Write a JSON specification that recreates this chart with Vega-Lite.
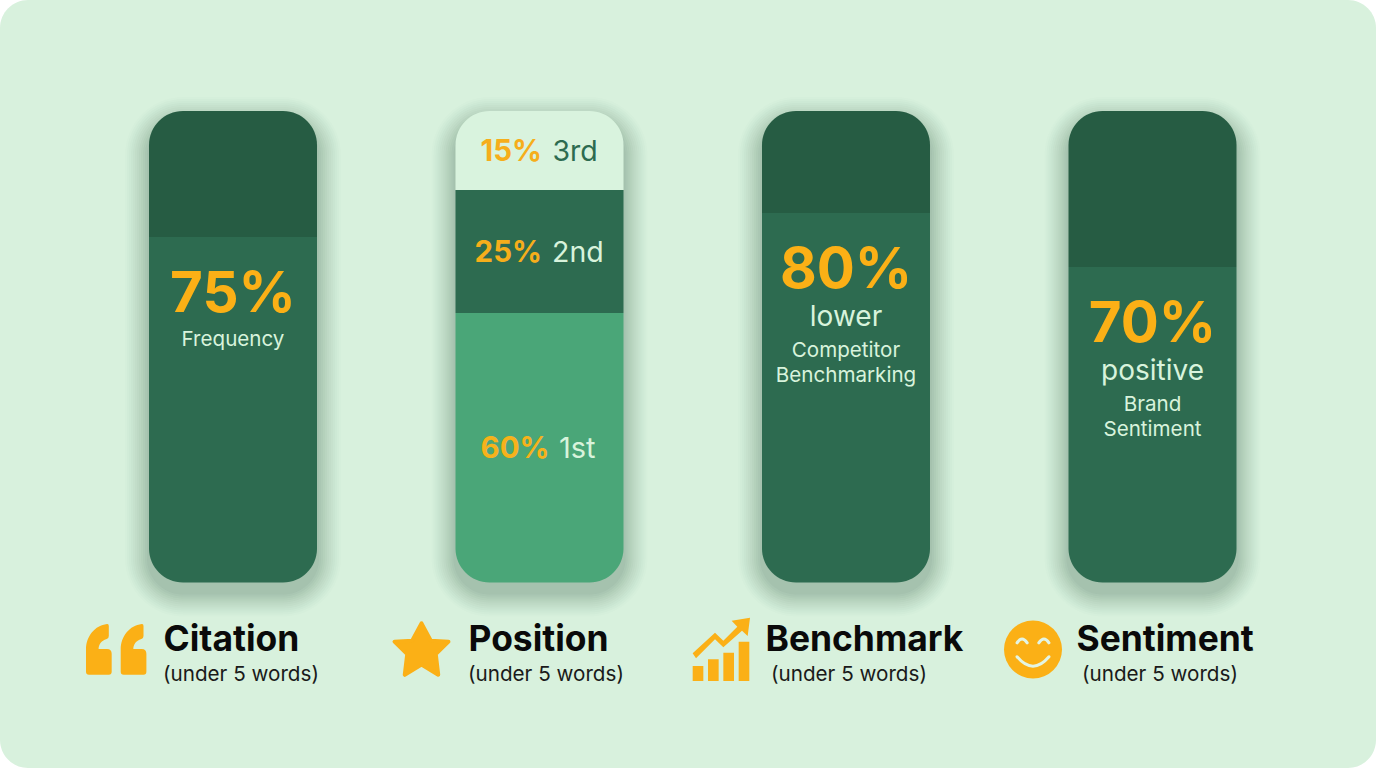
{"$schema":"https://vega.github.io/schema/vega-lite/v6.json","width":1376,"height":768,"autosize":{"type":"fit","contains":"padding"},"padding":0,"background":"#ffffff","config":{"view":{"fill":"#d8f1dd","stroke":null,"cornerRadius":28},"font":"Inter"},
"datasets":{
"segments":[
{"category":"Citation","segment":"Remainder","start":75,"end":100},
{"category":"Citation","segment":"Frequency","start":0,"end":75},
{"category":"Position","segment":"3rd","start":85,"end":100},
{"category":"Position","segment":"2nd","start":60,"end":85},
{"category":"Position","segment":"1st","start":0,"end":60},
{"category":"Benchmark","segment":"Remainder","start":80,"end":100},
{"category":"Benchmark","segment":"Competitor Benchmarking","start":0,"end":80},
{"category":"Sentiment","segment":"Remainder","start":70,"end":100},
{"category":"Sentiment","segment":"Brand Sentiment","start":0,"end":70}],
"metrics":[
{"category":"Citation","value":"75%","caption":"Frequency","detail":"","end":75},
{"category":"Benchmark","value":"80%","caption":"lower","detail":"Competitor\nBenchmarking","end":80},
{"category":"Sentiment","value":"70%","caption":"positive","detail":"Brand\nSentiment","end":70}],
"ranks":[
{"category":"Position","value":"15%","rank":"3rd","mid":92.5},
{"category":"Position","value":"25%","rank":"2nd","mid":72.5},
{"category":"Position","value":"60%","rank":"1st","mid":30}],
"categories":[
{"category":"Citation","note":"(under 5 words)"},
{"category":"Position","note":"(under 5 words)"},
{"category":"Benchmark","note":"(under 5 words)"},
{"category":"Sentiment","note":"(under 5 words)"}]},
"encoding":{"x":{"field":"category","type":"nominal","sort":null,"axis":null,"title":null,"scale":{"domain":["Citation","Position","Benchmark","Sentiment"],"range":[79.75,1305.75],"paddingInner":0,"paddingOuter":0}}},
"layer":[
{"data":{"name":"categories"},"mark":{"type":"bar","size":216,"fill":"#1b4332","opacity":0.012,"cornerRadius":58,"yOffset":-14,"y2Offset":34},"encoding":{"y":{"datum":100,"type":"quantitative","axis":null,"scale":{"domain":[0,60,70,75,80,85,100],"range":[582.5,313,267,237,213,190,111],"nice":false,"zero":false}},"y2":{"datum":0}}},
{"data":{"name":"categories"},"mark":{"type":"bar","size":212,"fill":"#1b4332","opacity":0.014,"cornerRadius":56,"yOffset":-12,"y2Offset":32},"encoding":{"y":{"datum":100,"type":"quantitative","axis":null},"y2":{"datum":0}}},
{"data":{"name":"categories"},"mark":{"type":"bar","size":208,"fill":"#1b4332","opacity":0.016,"cornerRadius":54,"yOffset":-10,"y2Offset":30},"encoding":{"y":{"datum":100,"type":"quantitative","axis":null},"y2":{"datum":0}}},
{"data":{"name":"categories"},"mark":{"type":"bar","size":204,"fill":"#1b4332","opacity":0.018,"cornerRadius":52,"yOffset":-8,"y2Offset":28},"encoding":{"y":{"datum":100,"type":"quantitative","axis":null},"y2":{"datum":0}}},
{"data":{"name":"categories"},"mark":{"type":"bar","size":200,"fill":"#1b4332","opacity":0.02,"cornerRadius":50,"yOffset":-6,"y2Offset":26},"encoding":{"y":{"datum":100,"type":"quantitative","axis":null},"y2":{"datum":0}}},
{"data":{"name":"categories"},"mark":{"type":"bar","size":196,"fill":"#1b4332","opacity":0.022,"cornerRadius":48,"yOffset":-4,"y2Offset":24},"encoding":{"y":{"datum":100,"type":"quantitative","axis":null},"y2":{"datum":0}}},
{"data":{"name":"categories"},"mark":{"type":"bar","size":192,"fill":"#1b4332","opacity":0.024,"cornerRadius":46,"yOffset":-2,"y2Offset":22},"encoding":{"y":{"datum":100,"type":"quantitative","axis":null},"y2":{"datum":0}}},
{"data":{"name":"categories"},"mark":{"type":"bar","size":188,"fill":"#1b4332","opacity":0.026,"cornerRadius":44,"yOffset":0,"y2Offset":20},"encoding":{"y":{"datum":100,"type":"quantitative","axis":null},"y2":{"datum":0}}},
{"data":{"name":"categories"},"mark":{"type":"bar","size":184,"fill":"#1b4332","opacity":0.028,"cornerRadius":42,"yOffset":2,"y2Offset":18},"encoding":{"y":{"datum":100,"type":"quantitative","axis":null},"y2":{"datum":0}}},
{"data":{"name":"categories"},"mark":{"type":"bar","size":180,"fill":"#1b4332","opacity":0.03,"cornerRadius":40,"yOffset":4,"y2Offset":16},"encoding":{"y":{"datum":100,"type":"quantitative","axis":null},"y2":{"datum":0}}},
{"data":{"name":"categories"},"mark":{"type":"bar","size":176,"fill":"#1b4332","opacity":0.032,"cornerRadius":38,"yOffset":6,"y2Offset":14},"encoding":{"y":{"datum":100,"type":"quantitative","axis":null},"y2":{"datum":0}}},
{"data":{"name":"categories"},"mark":{"type":"bar","size":172,"fill":"#1b4332","opacity":0.034,"cornerRadius":36,"yOffset":8,"y2Offset":12},"encoding":{"y":{"datum":100,"type":"quantitative","axis":null},"y2":{"datum":0}}},
{"data":{"name":"segments"},"transform":[{"filter":"datum.end==100"}],"mark":{"type":"bar","size":168,"cornerRadiusTopLeft":34,"cornerRadiusTopRight":34},"encoding":{"y":{"field":"end","type":"quantitative","axis":null},"y2":{"field":"start"},"fill":{"field":"segment","type":"nominal","legend":null,"scale":{"domain":["Remainder","Frequency","Competitor Benchmarking","Brand Sentiment","3rd","2nd","1st"],"range":["#265c43","#2d6b50","#2d6b50","#2d6b50","#d9f3de","#2d6b50","#4aa678"]}}}},
{"data":{"name":"segments"},"transform":[{"filter":"datum.end<100 && datum.start>0"}],"mark":{"type":"bar","size":168},"encoding":{"y":{"field":"end","type":"quantitative","axis":null},"y2":{"field":"start"},"fill":{"field":"segment","type":"nominal","legend":null}}},
{"data":{"name":"segments"},"transform":[{"filter":"datum.start==0"}],"mark":{"type":"bar","size":168,"cornerRadiusBottomLeft":34,"cornerRadiusBottomRight":34},"encoding":{"y":{"field":"end","type":"quantitative","axis":null},"y2":{"field":"start"},"fill":{"field":"segment","type":"nominal","legend":null}}},
{"data":{"name":"metrics"},"mark":{"type":"text","font":"Inter","fontSize":56.5,"fontWeight":700,"fill":"#fbb016","dy":58,"baseline":"middle","align":"center"},"encoding":{"y":{"field":"end","type":"quantitative","axis":null},"text":{"field":"value"}}},
{"data":{"name":"metrics"},"transform":[{"filter":"datum.category=='Citation'"}],"mark":{"type":"text","font":"Inter","fontSize":20.6,"fill":"#d8f3dc","dy":103,"baseline":"middle","align":"center"},"encoding":{"y":{"field":"end","type":"quantitative","axis":null},"text":{"field":"caption"}}},
{"data":{"name":"metrics"},"transform":[{"filter":"datum.category!='Citation'"}],"mark":{"type":"text","font":"Inter","fontSize":28,"fill":"#d8f3dc","dy":105,"baseline":"middle","align":"center"},"encoding":{"y":{"field":"end","type":"quantitative","axis":null},"text":{"field":"caption"}}},
{"data":{"name":"metrics"},"transform":[{"filter":"datum.detail!=''"}],"mark":{"type":"text","font":"Inter","fontSize":20.6,"fill":"#d8f3dc","dy":128,"baseline":"top","align":"center","lineBreak":"\n","lineHeight":25},"encoding":{"y":{"field":"end","type":"quantitative","axis":null},"text":{"field":"detail"}}},
{"data":{"name":"ranks"},"transform":[{"filter":"datum.mid>50"}],"mark":{"type":"text","font":"Inter","fontSize":29.5,"fontWeight":700,"fill":"#f6ae1b","dx":2.5,"dy":1,"baseline":"middle","align":"right"},"encoding":{"y":{"field":"mid","type":"quantitative","axis":null},"text":{"field":"value"}}},
{"data":{"name":"ranks"},"transform":[{"filter":"datum.mid<50"}],"mark":{"type":"text","font":"Inter","fontSize":29.5,"fontWeight":700,"fill":"#f6b21b","dx":10,"dy":1.5,"baseline":"middle","align":"right"},"encoding":{"y":{"field":"mid","type":"quantitative","axis":null},"text":{"field":"value"}}},
{"data":{"name":"ranks"},"transform":[{"filter":"datum.rank=='3rd'"}],"mark":{"type":"text","font":"Inter","fontSize":28.5,"fill":"#2d6b50","dx":13,"dy":1,"baseline":"middle","align":"left"},"encoding":{"y":{"field":"mid","type":"quantitative","axis":null},"text":{"field":"rank"}}},
{"data":{"name":"ranks"},"transform":[{"filter":"datum.rank=='2nd'"}],"mark":{"type":"text","font":"Inter","fontSize":28.5,"fill":"#d8f3dc","dx":12.5,"dy":0.5,"baseline":"middle","align":"left"},"encoding":{"y":{"field":"mid","type":"quantitative","axis":null},"text":{"field":"rank"}}},
{"data":{"name":"ranks"},"transform":[{"filter":"datum.rank=='1st'"}],"mark":{"type":"text","font":"Inter","fontSize":29,"fill":"#d8f3dc","dx":19.5,"dy":1.5,"baseline":"middle","align":"left"},"encoding":{"y":{"field":"mid","type":"quantitative","axis":null},"text":{"field":"rank"}}},
{"data":{"name":"categories"},"transform":[{"filter":"datum.category=='Citation'"}],"mark":{"type":"text","font":"Inter","fontSize":35.4,"fontWeight":700,"fill":"#0a0a0a","align":"left","baseline":"middle","dx":-69.5,"dy":57.5},"encoding":{"y":{"datum":0,"type":"quantitative","axis":null},"text":{"field":"category"}}},
{"data":{"name":"categories"},"transform":[{"filter":"datum.category=='Position'"}],"mark":{"type":"text","font":"Inter","fontSize":35.4,"fontWeight":700,"fill":"#0a0a0a","align":"left","baseline":"middle","dx":-71,"dy":57.5},"encoding":{"y":{"datum":0,"type":"quantitative","axis":null},"text":{"field":"category"}}},
{"data":{"name":"categories"},"transform":[{"filter":"datum.category=='Benchmark'"}],"mark":{"type":"text","font":"Inter","fontSize":35.4,"fontWeight":700,"fill":"#0a0a0a","align":"left","baseline":"middle","dx":-80.5,"dy":57.5},"encoding":{"y":{"datum":0,"type":"quantitative","axis":null},"text":{"field":"category"}}},
{"data":{"name":"categories"},"transform":[{"filter":"datum.category=='Sentiment'"}],"mark":{"type":"text","font":"Inter","fontSize":35.4,"fontWeight":700,"fill":"#0a0a0a","align":"left","baseline":"middle","dx":-76,"dy":57.5},"encoding":{"y":{"datum":0,"type":"quantitative","axis":null},"text":{"field":"category"}}},
{"data":{"name":"categories"},"transform":[{"filter":"datum.category=='Citation'"}],"mark":{"type":"text","font":"Inter","fontSize":20.65,"fill":"#1a1a1a","align":"left","baseline":"middle","dx":-70,"dy":92},"encoding":{"y":{"datum":0,"type":"quantitative","axis":null},"text":{"field":"note"}}},
{"data":{"name":"categories"},"transform":[{"filter":"datum.category=='Position'"}],"mark":{"type":"text","font":"Inter","fontSize":20.65,"fill":"#1a1a1a","align":"left","baseline":"middle","dx":-71.5,"dy":92},"encoding":{"y":{"datum":0,"type":"quantitative","axis":null},"text":{"field":"note"}}},
{"data":{"name":"categories"},"transform":[{"filter":"datum.category=='Benchmark'"}],"mark":{"type":"text","font":"Inter","fontSize":20.65,"fill":"#1a1a1a","align":"left","baseline":"middle","dx":-75,"dy":92},"encoding":{"y":{"datum":0,"type":"quantitative","axis":null},"text":{"field":"note"}}},
{"data":{"name":"categories"},"transform":[{"filter":"datum.category=='Sentiment'"}],"mark":{"type":"text","font":"Inter","fontSize":20.65,"fill":"#1a1a1a","align":"left","baseline":"middle","dx":-70.5,"dy":92},"encoding":{"y":{"datum":0,"type":"quantitative","axis":null},"text":{"field":"note"}}},
{"data":{"name":"categories"},"transform":[{"filter":"datum.category=='Citation'"}],"mark":{"type":"point","filled":true,"fill":"#fbb016","opacity":1,"xOffset":-117,"yOffset":67,"size":3600,"shape":"M -0.9 0.84 Q -1 0.84 -1 0.74 L -1 0 C -1 -0.45 -0.7 -0.8 -0.3 -0.85 Q -0.24 -0.86 -0.24 -0.78 L -0.24 -0.45 Q -0.24 -0.37 -0.31 -0.35 C -0.5 -0.3 -0.58 -0.15 -0.58 -0.02 L -0.3 -0.02 Q -0.144 -0.02 -0.144 0.14 L -0.144 0.74 Q -0.144 0.84 -0.24 0.84 Z M 0.257 0.84 Q 0.157 0.84 0.157 0.74 L 0.157 0 C 0.157 -0.45 0.457 -0.8 0.857 -0.85 Q 0.917 -0.86 0.917 -0.78 L 0.917 -0.45 Q 0.917 -0.37 0.847 -0.35 C 0.657 -0.3 0.577 -0.15 0.577 -0.02 L 0.857 -0.02 Q 1.013 -0.02 1.013 0.14 L 1.013 0.74 Q 1.013 0.84 0.917 0.84 Z"},"encoding":{"y":{"datum":0,"type":"quantitative","axis":null}}},
{"data":{"name":"categories"},"transform":[{"filter":"datum.category=='Position'"}],"mark":{"type":"point","filled":true,"fill":"#fbb016","stroke":"#fbb016","strokeWidth":4,"strokeJoin":"round","opacity":1,"xOffset":-118,"yOffset":67.5,"size":3844,"shape":"M 0 -0.86 L 0.3 -0.3 L 0.87 -0.27 L 0.46 0.13 L 0.54 0.8 L 0 0.47 L -0.54 0.8 L -0.46 0.13 L -0.87 -0.27 L -0.3 -0.3 Z"},"encoding":{"y":{"datum":0,"type":"quantitative","axis":null}}},
{"data":{"name":"categories"},"transform":[{"filter":"datum.category=='Benchmark'"}],"mark":{"type":"point","filled":true,"fill":"#fbb016","opacity":1,"xOffset":-125,"yOffset":67,"size":3600,"shape":"M -0.944 0.55 L -0.589 0.55 L -0.589 1.05 L -0.944 1.05 Z M -0.433 0.328 L -0.078 0.328 L -0.078 1.05 L -0.433 1.05 Z M 0.078 0.106 L 0.433 0.106 L 0.433 1.05 L 0.078 1.05 Z M 0.589 -0.261 L 0.944 -0.261 L 0.944 1.05 L 0.589 1.05 Z M -0.945 0.128 L -0.2 -0.561 L 0.078 -0.294 L 0.544 -0.761 L 0.355 -0.961 L 0.967 -1.061 L 0.889 -0.45 L 0.7 -0.628 L 0.078 -0.072 L -0.2 -0.339 L -0.833 0.294 Z"},"encoding":{"y":{"datum":0,"type":"quantitative","axis":null}}},
{"data":{"name":"categories"},"transform":[{"filter":"datum.category=='Sentiment'"}],"mark":{"type":"point","shape":"circle","filled":true,"fill":"#fbb016","opacity":1,"xOffset":-119.5,"yOffset":67,"size":3364},"encoding":{"y":{"datum":0,"type":"quantitative","axis":null}}},
{"data":{"name":"categories"},"transform":[{"filter":"datum.category=='Sentiment'"}],"mark":{"type":"point","filled":false,"stroke":"#e3f5e4","strokeWidth":3,"strokeCap":"round","opacity":1,"xOffset":-119.5,"yOffset":67,"size":3364,"shape":"M -0.55 -0.23 Q -0.38 -0.5 -0.2 -0.23 M 0.2 -0.23 Q 0.38 -0.5 0.55 -0.23 M -0.55 0.25 Q 0 0.9 0.55 0.25"},"encoding":{"y":{"datum":0,"type":"quantitative","axis":null}}}
]}
